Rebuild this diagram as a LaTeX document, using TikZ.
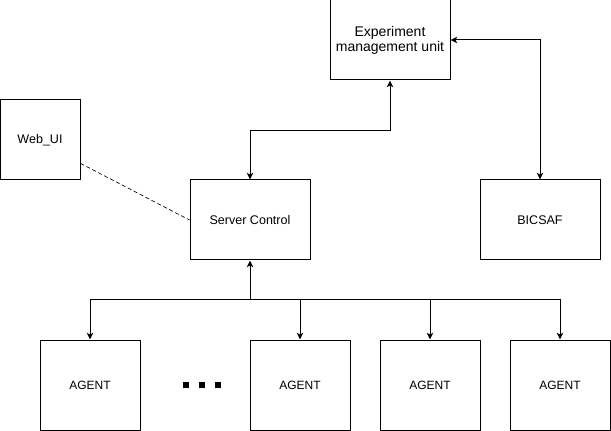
\documentclass[tikz,border=0pt]{standalone}
\usepackage{fontspec}
\setmainfont{Liberation Sans}
\usepackage{tikz}
\usetikzlibrary{arrows.meta}

\newcommand{\dotsq}{\rule{3.8pt}{4.6pt}}

\begin{document}
\begin{tikzpicture}[x=0.75pt,y=-0.75pt,
  >={Stealth[length=5pt,width=4.8pt,inset=1.2pt]},
  line width=0.75pt,
  unit/.style={draw, inner sep=0pt, align=center,
    minimum width=90pt, minimum height=60pt,
    font=\fontsize{9.4pt}{11pt}\selectfont},
  agentbox/.style={unit, minimum width=75pt, minimum height=67.5pt,
    font=\fontsize{9pt}{11pt}\selectfont}]

\useasboundingbox (0,0) rectangle (611,431);

% --- UNITA' IN ALTO ---
\node[unit, font=\fontsize{10.5pt}{11.25pt}\selectfont] (exp) at (390,40)
  {Experiment\\management unit};
\node[unit, minimum width=60pt] (web) at (40,140) {Web\_UI};
\node[unit] (srv) at (250,220) {Server Control};
\node[unit] (bic) at (540,220) {BICSAF};

% --- AGENTI ---
\node[agentbox] (a1) at (90,385) {AGENT};
\node[agentbox] (a2) at (300,385) {AGENT};
\node[agentbox] (a3) at (430,385) {AGENT};
\node[agentbox] (a4) at (560,385) {AGENT};
\node (dots) at (202,385) {\dotsq\hspace{8.2pt}\dotsq\hspace{8.2pt}\dotsq};

% --- COLLEGAMENTI ---
\draw[<->] (exp.south) -- ++(0,50) -| (srv.north);
\draw[<->] (exp.east) -| (bic.north);
\draw[dashed, line width=0.5pt, dash pattern=on 3pt off 2pt] (web.-30) -- (srv.west);

\coordinate (bus) at (250,300);
\draw[->] (bus) -- (srv.south);
\foreach \a in {a1,a2,a3,a4} {
    \draw[->] (bus) -| (\a.north);
}

\end{tikzpicture}
\end{document}
